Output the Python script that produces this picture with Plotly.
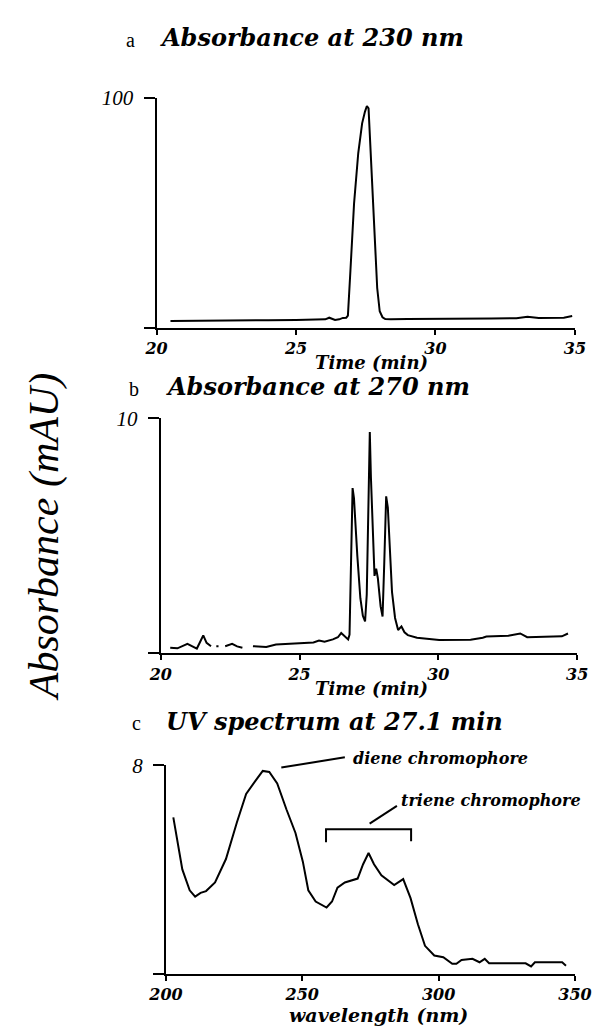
import plotly.graph_objects as go

# ---------------- data ----------------
# Panel a: absorbance at 230 nm
time_a = [20.5, 21.0, 22.0, 23.0, 24.0, 25.0, 25.8, 26.05, 26.19, 26.3, 26.4, 26.55, 26.68, 26.8,
          26.86, 26.95, 27.08, 27.23, 27.37, 27.47, 27.54, 27.6, 27.65, 27.72, 27.83, 27.91, 28.0,
          28.1, 28.2, 28.4, 29.0, 30.0, 31.0, 32.0, 32.9, 33.3, 33.7, 34.2, 34.6, 34.9]
abs_230 = [3.2, 3.2, 3.3, 3.4, 3.5, 3.6, 3.7, 3.9, 4.6, 4.0, 3.6, 3.9, 4.5, 4.6,
           5.5, 25, 54, 76, 89, 94, 96.5, 95.5, 83, 61, 39, 17.5, 7.4,
           4.8, 4.0, 3.9, 4.0, 4.0, 4.1, 4.2, 4.4, 5.0, 4.5, 4.5, 4.6, 5.3]

# Panel b: absorbance at 270 nm (None = gap in trace)
time_b = [20.34, 20.6, 20.96, 21.15, 21.3, 21.42, 21.53, 21.65, 21.81, None,
          22.0, 22.08, None,
          22.32, 22.45, 22.57, 22.75, 22.94, None,
          23.32, 23.8, 24.15, 24.83, 25.5, 25.7, 25.9, 26.2, 26.38, 26.5, 26.62, 26.75, 26.8,
          26.86, 26.91, 26.96, 27.02, 27.08, 27.19, 27.28, 27.36, 27.42, 27.48, 27.53, 27.57,
          27.62, 27.70, 27.76, 27.82, 27.92, 27.99, 28.05, 28.12, 28.18, 28.24, 28.33, 28.44,
          28.55, 28.67, 28.78, 28.9, 29.23, 30.03, 31.16, 31.6, 31.73, 32.52, 32.95, 33.2,
          34.45, 34.67]
abs_270 = [0.24, 0.22, 0.41, 0.3, 0.21, 0.5, 0.77, 0.45, 0.31, None,
           0.31, 0.31, None,
           0.31, 0.36, 0.41, 0.3, 0.24, None,
           0.31, 0.28, 0.38, 0.43, 0.47, 0.55, 0.5, 0.6, 0.69, 0.87, 0.72, 0.6, 0.8,
           4.0, 7.03, 6.6, 5.2, 4.16, 2.35, 1.6, 1.36, 2.5, 6.26, 9.41, 7.5,
           5.56, 3.3, 3.6, 3.2, 2.0, 1.57, 3.8, 6.68, 6.2, 4.87, 2.62, 1.51,
           1.0, 1.15, 0.9, 0.78, 0.67, 0.57, 0.58, 0.67, 0.72, 0.75, 0.85, 0.69,
           0.73, 0.85]

# Panel c: UV spectrum at 27.1 min
wavelength = [202.7, 206, 208.7, 210.7, 212.7, 214.7, 218, 222, 226, 229.4, 232.8, 235.5, 237.9,
              240.8, 244.2, 247.5, 250.2, 252.2, 254.9, 258.9, 260.9, 262.9, 265.6, 270.3, 272.3,
              274.3, 276.3, 279, 283.7, 287, 289.7, 292.4, 295, 298.4, 301.7, 305, 306.5, 308.4,
              312.4, 315, 316.9, 318.5, 331.9, 333.9, 335.3, 345.3, 346.7]
spectrum = [6.0, 4.0, 3.2, 2.96, 3.1, 3.17, 3.5, 4.4, 5.8, 6.9, 7.4, 7.78, 7.74,
            7.3, 6.3, 5.4, 4.3, 3.2, 2.77, 2.54, 2.77, 3.3, 3.5, 3.65, 4.2,
            4.63, 4.2, 3.78, 3.4, 3.63, 2.9, 1.9, 1.07, 0.7, 0.63, 0.38, 0.38, 0.53,
            0.57, 0.44, 0.57, 0.4, 0.4, 0.28, 0.44, 0.44, 0.31]

time_ticks = [20, 25, 30, 35]
wl_ticks = [200, 250, 300, 350]

# annotation anchors (data coordinates of panel c)
diene_line = [(242.3, 7.91), (265.6, 8.3)]
diene_text = (267.8, 8.26)
triene_bracket = [(258.7, 5.04), (258.7, 5.54), (289.9, 5.54), (289.9, 5.08)]
triene_line = [(274.7, 5.76), (284.7, 6.44)]
triene_text = (285.5, 6.66)

# ---------------- figure ----------------
W, H = 608, 1036
SERIF = "Liberation Serif"
WIDE = "DejaVu Serif"


def px_x(p):
    return p / W


def px_y(p):
    return 1 - p / H


# pixel frames of the three panels: (left, right, top, bottom)
FRAME_A = (147, 591, 87, 320)
FRAME_B = (151.5, 593.3, 411, 649)
FRAME_C = (157, 591, 762, 973)
XR_C, YR_C = (200, 350), (0, 8)

fig = go.Figure()
line = dict(color="black", width=2)
fig.add_trace(go.Scatter(x=time_a, y=abs_230, mode="lines", line=line, xaxis="x", yaxis="y",
                         showlegend=False))
fig.add_trace(go.Scatter(x=time_b, y=abs_270, mode="lines", line=line, xaxis="x2", yaxis="y2",
                         showlegend=False, connectgaps=False))
fig.add_trace(go.Scatter(x=wavelength, y=spectrum, mode="lines", line=line, xaxis="x3", yaxis="y3",
                         showlegend=False))

xtickfont = dict(family=WIDE, size=16, color="black", style="italic", weight="bold")
ytickfont = dict(family=SERIF, size=21, color="black", style="italic")


def xax(frame, anchor, rng, ticks):
    return dict(domain=[px_x(frame[0]), px_x(frame[1])], anchor=anchor, range=rng, tickvals=ticks,
                ticktext=[str(t) for t in ticks], showline=True, linecolor="black", linewidth=2,
                ticks="outside", ticklen=5, tickwidth=2, tickcolor="black",
                tickfont=xtickfont, showgrid=False, zeroline=False, fixedrange=True)


def yax(frame, anchor, top):
    return dict(domain=[px_y(frame[3]), px_y(frame[2])], anchor=anchor, range=[0, top],
                tickvals=[0, top], ticktext=["", str(top)], showline=True, linecolor="black",
                linewidth=2, ticks="outside", ticklen=11, tickwidth=2, tickcolor="black",
                ticklabelstandoff=6, tickfont=ytickfont, showgrid=False, zeroline=False,
                fixedrange=True)


fig.update_layout(
    width=W, height=H, margin=dict(l=0, r=0, t=0, b=0),
    paper_bgcolor="white", plot_bgcolor="white",
    xaxis=xax(FRAME_A, "y", [20, 35], time_ticks),
    yaxis=yax(FRAME_A, "x", 100),
    xaxis2=xax(FRAME_B, "y2", [20, 35], time_ticks),
    yaxis2=yax(FRAME_B, "x2", 10),
    xaxis3=xax(FRAME_C, "y3", list(XR_C), wl_ticks),
    yaxis3=yax(FRAME_C, "x3", 8),
)


def c_to_px(x, y):
    l, r, t, b = FRAME_C
    return (l + (x - XR_C[0]) / (XR_C[1] - XR_C[0]) * (r - l),
            b - (y - YR_C[0]) / (YR_C[1] - YR_C[0]) * (b - t))


annots = []


def paper_text(text, x, y, size, family=SERIF, weight="normal", style="italic", xanchor="left",
               angle=0):
    annots.append(dict(text=text, x=px_x(x), y=px_y(y), xref="paper", yref="paper",
                       xanchor=xanchor, yanchor="middle", showarrow=False, textangle=angle,
                       font=dict(family=family, size=size, color="black", weight=weight,
                                 style=style)))


# panel titles
paper_text("a", 112, 28, 20, style="normal")
paper_text("Absorbance at 230 nm", 149, 26, 24, family=WIDE, weight="bold")
paper_text("b", 116, 381, 20, style="normal")
paper_text("Absorbance at 270 nm", 155, 379, 24, family=WIDE, weight="bold")
paper_text("c", 119, 719, 20, style="normal")
paper_text("UV spectrum at 27.1 min", 155, 718, 24, family=WIDE, weight="bold")

# axis titles
paper_text("Time (min)", 375, 355, 18, family=WIDE, weight="bold", xanchor="center")
paper_text("Time (min)", 375, 684, 18, family=WIDE, weight="bold", xanchor="center")
paper_text("wavelength (nm)", 383, 1015, 19, family=WIDE, weight="bold", xanchor="center")
paper_text("Absorbance (mAU)", 28, 531, 42, xanchor="center", angle=-90)

# chromophore labels
for txt, (x, y) in [("diene chromophore", diene_text), ("triene chromophore", triene_text)]:
    px, py = c_to_px(x, y)
    paper_text(txt, px, py, 16, family=WIDE, weight="bold")
fig.update_layout(annotations=annots)


def path_of(pts):
    segs = []
    for x, y in pts:
        px, py = c_to_px(x, y)
        segs.append(f"{px_x(px):.5f},{px_y(py):.5f}")
    return "M " + " L ".join(segs)


shapes = []
for pts in [diene_line, triene_bracket, triene_line]:
    shapes.append(dict(type="path", path=path_of(pts), xref="paper", yref="paper",
                       line=dict(color="black", width=2)))
fig.update_layout(shapes=shapes)

fig.write_html("out.html")
